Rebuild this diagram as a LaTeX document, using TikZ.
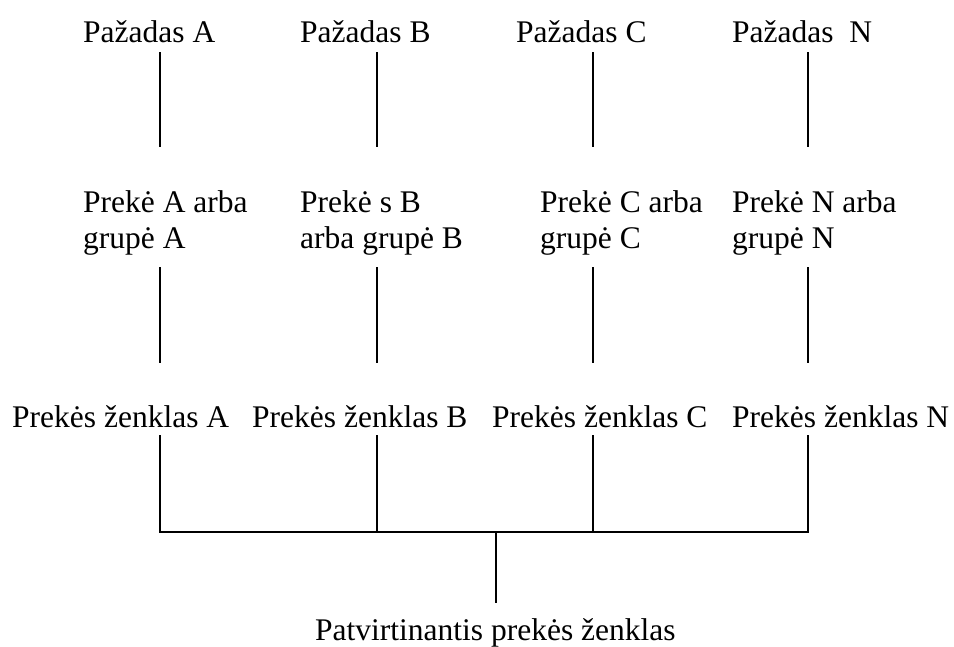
\documentclass[tikz,border=0pt]{standalone}
\usepackage{fontspec}
\setmainfont{Liberation Serif}
\begin{document}
\begin{tikzpicture}[x=1pt,y=-1pt,
  lbl/.style={anchor=base west,inner sep=0pt,align=left,
    font=\fontsize{31.5}{36}\selectfont},
  link/.style={line width=1.5pt,line cap=butt}]
\useasboundingbox (0,0) rectangle (954,646);

% promises
\node[lbl] (pA) at (83,42)  {Pažadas A};
\node[lbl] (pB) at (300,42) {Pažadas B};
\node[lbl] (pC) at (516,42) {Pažadas C};
\node[lbl] (pN) at (732,42) {Pažadas\ \ N};

% products or product groups (anchored at the baseline of the last line)
\node[lbl] (gA) at (83,248)  {Prekė A arba\\grupė A};
\node[lbl] (gB) at (300,248) {Prekė s B\\arba grupė B};
\node[lbl] (gC) at (540,248) {Prekė C arba\\grupė C};
\node[lbl] (gN) at (732,248) {Prekė N arba\\grupė N};

% trademarks
\node[lbl] (tA) at (12,427)  {Prekės ženklas A};
\node[lbl] (tB) at (252,427) {Prekės ženklas B};
\node[lbl] (tC) at (492,427) {Prekės ženklas C};
\node[lbl] (tN) at (732,427) {Prekės ženklas N};

% confirming trademark
\node[lbl] (cf) at (315,640) {Patvirtinantis prekės ženklas};

% line end points
\foreach \n/\x in {A/160,B/377,C/593,N/808}{
  \coordinate (p\n b) at (\x,52);
  \coordinate (g\n t) at (\x,147);
  \coordinate (g\n b) at (\x,267);
  \coordinate (t\n t) at (\x,363);
  \coordinate (t\n b) at (\x,435);
  \coordinate (h\n)   at (\x,532);
}
\coordinate (hM) at (496,532);
\coordinate (cft) at (496,603);

\foreach \n in {A,B,C,N}{
  \draw[link] (p\n b) -- (g\n t);
  \draw[link] (g\n b) -- (t\n t);
  \draw[link] (t\n b) -- (h\n);
}
\draw[link,line cap=rect] (hA) -- (hN);
\draw[link] (hM) -- (cft);
\end{tikzpicture}
\end{document}
